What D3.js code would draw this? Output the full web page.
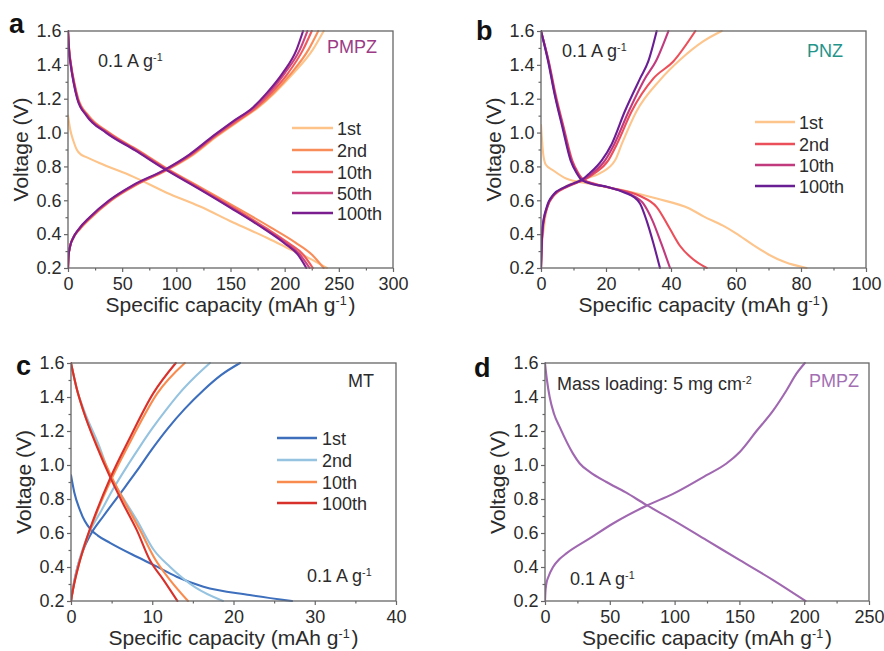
<!DOCTYPE html>
<html>
<head>
<meta charset="utf-8">
<script src="https://cdn.jsdelivr.net/npm/d3@7"></script>
<style>
  body { margin: 0; background: #fff; }
  svg { display: block; }
</style>
</head>
<body>
<svg id="fig" width="884" height="651"></svg>
<script>
// ---------- Galvanostatic charge/discharge profiles (capacity mAh/g, voltage V) ----------

// (a) PMPZ
const aCycles = ["1st", "2nd", "10th", "50th", "100th"];
const aColors = ["#fdc388", "#f98d59", "#ef5c5c", "#cc4580", "#7a1d8e"];
const aCharge1 = [[0,0.2],[0.5,0.27],[2,0.33],[5,0.38],[11,0.43],[22,0.5],[40,0.6],[63,0.69],[92,0.78],[116,0.87],[138,0.98],[157,1.065],[176,1.15],[190,1.23],[208,1.35],[226,1.49],[236,1.6]];
const aCharge2 = [[0,0.2],[0.5,0.27],[2,0.33],[5,0.38],[11,0.43],[21.5,0.5],[40,0.6],[62,0.69],[91,0.78],[115,0.87],[137,0.98],[156,1.065],[175,1.15],[189,1.23],[206,1.35],[222,1.49],[231,1.6]];
const aCharge10 = [[0,0.2],[0.5,0.27],[2,0.33],[5,0.38],[10.5,0.43],[21,0.5],[39,0.6],[62,0.69],[91,0.78],[114,0.87],[136,0.98],[155,1.065],[174,1.15],[187,1.23],[203,1.35],[217,1.49],[225,1.6]];
const aCharge50 = [[0,0.2],[0.5,0.27],[2,0.33],[5,0.38],[10,0.43],[20.5,0.5],[39,0.6],[61,0.69],[90,0.78],[113,0.87],[135,0.98],[153,1.065],[172,1.15],[185,1.23],[200,1.35],[214,1.49],[221,1.6]];
const aCharge100 = [[0,0.2],[0.5,0.27],[2,0.33],[5,0.38],[10,0.43],[20,0.5],[38,0.6],[60,0.69],[89,0.78],[112,0.87],[134,0.98],[152,1.065],[171,1.15],[183,1.23],[198,1.35],[211,1.49],[217,1.6]];
const aDischarge1 = [[0,1.1],[2,1.02],[5,0.95],[8,0.9],[12,0.87],[17,0.855],[29,0.82],[60,0.74],[91,0.645],[122,0.563],[152,0.47],[183,0.38],[202,0.32],[222,0.26],[239,0.2]];
const aDischarge2 = [[0,1.6],[1,1.5],[2.9,1.4],[5.7,1.3],[9.5,1.2],[19,1.1],[38,1.0],[65,0.895],[92,0.785],[124,0.67],[156,0.555],[187,0.44],[210,0.35],[225,0.28],[236,0.2]];
const aDischarge10 = [[0,1.6],[0.9,1.5],[2.7,1.4],[5.4,1.3],[9,1.2],[18,1.1],[37,1.0],[64,0.895],[91,0.785],[122,0.67],[153,0.555],[183,0.435],[204,0.345],[217,0.28],[226,0.2]];
const aDischarge50 = [[0,1.6],[0.8,1.5],[2.6,1.4],[5.2,1.3],[8.8,1.2],[17.5,1.1],[36,1.0],[63,0.895],[90,0.785],[121,0.67],[151,0.555],[181,0.435],[202,0.345],[214,0.28],[223,0.2]];
const aDischarge100 = [[0,1.6],[0.8,1.5],[2.5,1.4],[5,1.3],[8.5,1.2],[17,1.1],[35,1.0],[62,0.895],[89,0.785],[120,0.67],[150,0.555],[180,0.435],[200,0.345],[212,0.28],[220,0.2]];

// (b) PNZ
const bCycles = ["1st", "2nd", "10th", "100th"];
const bColors = ["#fdc48c", "#ea4f5a", "#c23a7e", "#6a1e94"];
const bCharge1 = [[0,0.2],[0.2,0.3],[0.9,0.44],[2.3,0.58],[5,0.65],[8.5,0.69],[12,0.72],[18.2,0.76],[22.8,0.836],[24.8,0.93],[29.4,1.126],[36.6,1.31],[42.8,1.43],[50,1.54],[55.6,1.6]];
const bCharge2 = [[0,0.2],[0.15,0.3],[0.6,0.44],[1.9,0.556],[4.2,0.634],[7.6,0.675],[10.6,0.7],[13.2,0.72],[16.5,0.76],[20.7,0.836],[23.3,0.93],[27.9,1.126],[34.6,1.32],[40.7,1.42],[47.5,1.6]];
const bCharge10 = [[0,0.2],[0.15,0.3],[0.5,0.44],[1.8,0.556],[4,0.634],[7.3,0.675],[10.3,0.7],[12.8,0.72],[15.8,0.76],[19.7,0.836],[22.5,0.93],[27,1.126],[32,1.32],[35.3,1.42],[39.2,1.6]];
const bCharge100 = [[0,0.2],[0.15,0.3],[0.5,0.44],[1.7,0.556],[3.8,0.634],[7,0.675],[10,0.7],[12.5,0.72],[15,0.76],[18.7,0.836],[21.7,0.93],[25.8,1.126],[30.5,1.32],[33,1.42],[35.6,1.6]];
const bDischarge1 = [[0,1.045],[0.7,0.87],[1.5,0.81],[3.8,0.776],[7.9,0.727],[15,0.698],[25.3,0.659],[35.6,0.61],[45.8,0.55],[50,0.505],[56,0.45],[60,0.405],[65,0.34],[70,0.28],[75,0.235],[81.7,0.2]];
const bDischarge2 = [[0,1.6],[2.4,1.42],[4.5,1.225],[7,1.03],[9.6,0.836],[11.5,0.76],[13.2,0.72],[17,0.695],[22,0.67],[30.5,0.625],[35.6,0.56],[39.7,0.43],[42.8,0.33],[46.9,0.25],[51,0.2]];
const bDischarge10 = [[0,1.6],[2.3,1.42],[4.3,1.225],[6.8,1.03],[9.3,0.836],[11.2,0.76],[12.8,0.72],[16.5,0.695],[21,0.675],[27.5,0.635],[31.5,0.58],[34.3,0.48],[37,0.345],[39.7,0.2]];
const bDischarge100 = [[0,1.6],[2.2,1.42],[4.2,1.225],[6.6,1.03],[9.1,0.836],[11,0.76],[12.5,0.72],[16,0.695],[20.2,0.68],[26.4,0.64],[28.5,0.62],[30.5,0.58],[32.5,0.48],[34.6,0.345],[36.6,0.2]];

// (c) MT
const cCycles = ["1st", "2nd", "10th", "100th"];
const cColors = ["#3d6fbd", "#95c3e0", "#f98b4e", "#d8312b"];
const cCharge1 = [[0,0.2],[0.3,0.29],[0.8,0.4],[1.5,0.5],[2.4,0.59],[4,0.7],[6.1,0.835],[8.1,0.965],[10,1.095],[12,1.22],[14,1.33],[16.3,1.44],[18.5,1.53],[20.8,1.6]];
const cCharge2 = [[0,0.2],[0.3,0.29],[0.8,0.4],[1.4,0.5],[2.2,0.6],[3.6,0.72],[5.2,0.86],[7,1.0],[8.5,1.11],[10,1.215],[11.8,1.33],[13.5,1.43],[15.3,1.52],[17.1,1.6]];
const cCharge10 = [[0,0.2],[0.3,0.28],[1,0.42],[2.05,0.578],[3.3,0.735],[5,0.92],[7.6,1.165],[10.6,1.42],[14,1.6]];
const cCharge100 = [[0,0.2],[0.3,0.28],[1,0.42],[2,0.578],[3.2,0.735],[4.8,0.92],[7.3,1.165],[10.1,1.42],[12.9,1.6]];
const cDischarge1 = [[0,0.94],[0.4,0.84],[1.1,0.735],[1.7,0.67],[2.4,0.622],[3.3,0.585],[4.8,0.542],[8.1,0.46],[10.2,0.411],[13,0.343],[16.3,0.284],[22,0.235],[27.2,0.2]];
const cDischarge2 = [[0,1.6],[0.7,1.45],[1.6,1.322],[3.4,1.12],[4.8,0.94],[6.5,0.8],[8.1,0.676],[10.2,0.5],[12.2,0.4],[15.3,0.28],[18.7,0.2]];
const cDischarge10 = [[0,1.6],[0.7,1.45],[1.5,1.322],[3.3,1.106],[5,0.93],[6.7,0.774],[8.5,0.617],[10.3,0.45],[12.2,0.323],[14.4,0.2]];
const cDischarge100 = [[0,1.6],[0.7,1.45],[1.5,1.322],[3.2,1.106],[4.8,0.93],[6.4,0.774],[8.1,0.617],[9.7,0.441],[11.4,0.323],[13.1,0.2]];

// (d) PMPZ, high mass loading
const dColor = "#a068b0";
const dCharge = [[0,0.2],[0.3,0.25],[1,0.3],[2.5,0.34],[6.2,0.4],[11,0.445],[16.5,0.48],[34.5,0.568],[52.5,0.656],[78.2,0.76],[98.8,0.83],[124.6,0.94],[140,1.009],[150.3,1.077],[163.2,1.2],[176,1.32],[186.4,1.44],[194,1.537],[200.5,1.6]];
const dDischarge = [[0,1.6],[1.5,1.5],[3.6,1.4],[7,1.3],[11.3,1.224],[21.6,1.067],[26.8,1.009],[34.5,0.96],[47.4,0.9],[62,0.84],[78.2,0.765],[98.8,0.676],[124.6,0.558],[150.3,0.44],[176,0.323],[201,0.2]];

// Axis ticks
const voltageMajor = [0.2, 0.4, 0.6, 0.8, 1.0, 1.2, 1.4, 1.6];
const voltageMinor = [0.3, 0.5, 0.7, 0.9, 1.1, 1.3, 1.5];
const aMajor = [0, 50, 100, 150, 200, 250, 300], aMinor = [25, 75, 125, 175, 225, 275];
const bMajor = [0, 20, 40, 60, 80, 100], bMinor = [10, 30, 50, 70, 90];
const cMajor = [0, 10, 20, 30, 40], cMinor = [5, 15, 25, 35];
const dMajor = [0, 50, 100, 150, 200, 250], dMinor = [25, 75, 125, 175, 225];

// ---------- Drawing ----------
const FONT = "Arial, 'Liberation Sans', Helvetica, sans-serif";
const AXIS_COLOR = "#666";
const TEXT_COLOR = "#2b2b2b";
const svg = d3.select("#fig");

const panels = [
  {
    letter: "a", letterPos: [9, 33], box: { l: 68, r: 393, t: 31, b: 268 },
    xDomain: [0, 300], xMajor: aMajor, xMinor: aMinor,
    series: [
      { name: aCycles[0], color: aColors[0], curves: [aCharge1, aDischarge1] },
      { name: aCycles[1], color: aColors[1], curves: [aCharge2, aDischarge2] },
      { name: aCycles[2], color: aColors[2], curves: [aCharge10, aDischarge10] },
      { name: aCycles[3], color: aColors[3], curves: [aCharge50, aDischarge50] },
      { name: aCycles[4], color: aColors[4], curves: [aCharge100, aDischarge100] }
    ],
    legend: { x1: 224, x2: 265, tx: 269, rows: [97, 119, 141, 162, 182] },
    notes: [
      { parts: [["0.1 A g"], ["-1", true]], x: 30, y: 36, color: TEXT_COLOR },
      { parts: [["PMPZ"]], x: 259, y: 22, color: "#9b3b85" }
    ]
  },
  {
    letter: "b", letterPos: [476, 40], box: { l: 541, r: 866, t: 31, b: 268 },
    xDomain: [0, 100], xMajor: bMajor, xMinor: bMinor,
    series: [
      { name: bCycles[0], color: bColors[0], curves: [bCharge1, bDischarge1] },
      { name: bCycles[1], color: bColors[1], curves: [bCharge2, bDischarge2] },
      { name: bCycles[2], color: bColors[2], curves: [bCharge10, bDischarge10] },
      { name: bCycles[3], color: bColors[3], curves: [bCharge100, bDischarge100] }
    ],
    legend: { x1: 214, x2: 254, tx: 258, rows: [91, 113, 134, 155] },
    notes: [
      { parts: [["0.1 A g"], ["-1", true]], x: 21, y: 26, color: TEXT_COLOR },
      { parts: [["PNZ"]], x: 266, y: 26, color: "#23948a" }
    ]
  },
  {
    letter: "c", letterPos: [16, 375], box: { l: 71, r: 396, t: 363, b: 601 },
    xDomain: [0, 40], xMajor: cMajor, xMinor: cMinor,
    series: [
      { name: cCycles[0], color: cColors[0], curves: [cCharge1, cDischarge1] },
      { name: cCycles[1], color: cColors[1], curves: [cCharge2, cDischarge2] },
      { name: cCycles[2], color: cColors[2], curves: [cCharge10, cDischarge10] },
      { name: cCycles[3], color: cColors[3], curves: [cCharge100, cDischarge100] }
    ],
    legend: { x1: 206, x2: 246, tx: 251, rows: [75, 97, 119, 140] },
    notes: [
      { parts: [["MT"]], x: 277, y: 24, color: TEXT_COLOR },
      { parts: [["0.1 A g"], ["-1", true]], x: 236, y: 219, color: TEXT_COLOR }
    ]
  },
  {
    letter: "d", letterPos: [474, 377], box: { l: 545, r: 869, t: 363, b: 601 },
    xDomain: [0, 250], xMajor: dMajor, xMinor: dMinor,
    series: [
      { name: "PMPZ", color: dColor, curves: [dCharge, dDischarge] }
    ],
    legend: null,
    notes: [
      { parts: [["Mass loading: 5 mg cm"], ["-2", true]], x: 12, y: 27, color: TEXT_COLOR },
      { parts: [["PMPZ"]], x: 264, y: 24, color: "#a36fb3" },
      { parts: [["0.1 A g"], ["-1", true]], x: 25, y: 222, color: TEXT_COLOR }
    ]
  }
];

// Writes text made of plain and superscript runs.
function richText(sel, parts, baseSize) {
  const lift = baseSize * 0.34;
  parts.forEach(([str, sup]) => {
    if (sup) {
      sel.append("tspan").attr("dy", -lift).attr("font-size", baseSize * 0.6).text(str);
      sel.append("tspan").attr("dy", lift).attr("font-size", baseSize).text("\u200A");
    } else {
      sel.append("tspan").attr("font-size", baseSize).text(str);
    }
  });
}

panels.forEach((p) => {
  const { l, r, t, b } = p.box;
  const x = d3.scaleLinear().domain(p.xDomain).range([l, r]);
  const y = d3.scaleLinear().domain([0.2, 1.6]).range([b, t]);
  const g = svg.append("g").attr("class", "panel-" + p.letter);

  const clipId = "clip-" + p.letter;
  svg.append("clipPath").attr("id", clipId)
    .append("rect").attr("x", l).attr("y", t - 1).attr("width", r - l).attr("height", b - t + 2);

  // minor ticks
  g.append("g").attr("transform", `translate(0,${b})`)
    .call(d3.axisBottom(x).tickValues(p.xMinor).tickSize(2.5).tickFormat(""))
    .call(s => { s.select(".domain").remove(); s.selectAll("line").attr("stroke", AXIS_COLOR).attr("stroke-width", 1.2); });
  g.append("g").attr("transform", `translate(${l},0)`)
    .call(d3.axisLeft(y).tickValues(voltageMinor).tickSize(2.5).tickFormat(""))
    .call(s => { s.select(".domain").remove(); s.selectAll("line").attr("stroke", AXIS_COLOR).attr("stroke-width", 1.2); });

  // major ticks + labels
  g.append("g").attr("transform", `translate(0,${b})`)
    .call(d3.axisBottom(x).tickValues(p.xMajor).tickSize(4).tickPadding(5).tickFormat(d3.format("d")))
    .call(s => {
      s.select(".domain").remove();
      s.selectAll("line").attr("stroke", AXIS_COLOR).attr("stroke-width", 1.2);
      s.selectAll("text").attr("font-family", FONT).attr("font-size", 18).attr("fill", TEXT_COLOR);
    });
  g.append("g").attr("transform", `translate(${l},0)`)
    .call(d3.axisLeft(y).tickValues(voltageMajor).tickSize(4).tickPadding(2.5).tickFormat(d3.format(".1f")))
    .call(s => {
      s.select(".domain").remove();
      s.selectAll("line").attr("stroke", AXIS_COLOR).attr("stroke-width", 1.2);
      s.selectAll("text").attr("font-family", FONT).attr("font-size", 18).attr("fill", TEXT_COLOR);
    });

  // curves (all branches are monotonic in capacity)
  const line = d3.line().x(d => x(d[0])).y(d => y(d[1])).curve(d3.curveMonotoneX);
  const plot = g.append("g").attr("clip-path", `url(#${clipId})`);
  p.series.forEach(s => {
    s.curves.forEach(c => {
      plot.append("path").attr("d", line(c)).attr("fill", "none")
        .attr("stroke", s.color).attr("stroke-width", 2.1)
        .attr("stroke-linejoin", "round").attr("stroke-linecap", "round");
    });
  });

  // frame
  g.append("rect").attr("x", l).attr("y", t).attr("width", r - l).attr("height", b - t)
    .attr("fill", "none").attr("stroke", AXIS_COLOR).attr("stroke-width", 1.3);

  // legend
  if (p.legend) {
    const lg = p.legend;
    p.series.forEach((s, k) => {
      const cy = t + lg.rows[k];
      g.append("line").attr("x1", l + lg.x1).attr("x2", l + lg.x2).attr("y1", cy).attr("y2", cy)
        .attr("stroke", s.color).attr("stroke-width", 2.4);
      g.append("text").attr("x", l + lg.tx).attr("y", cy + 6.5)
        .attr("font-family", FONT).attr("font-size", 18).attr("fill", TEXT_COLOR).text(s.name);
    });
  }

  // annotations
  p.notes.forEach(n => {
    const tx = g.append("text").attr("x", l + n.x).attr("y", t + n.y)
      .attr("font-family", FONT).attr("fill", n.color);
    richText(tx, n.parts, 18);
  });

  // axis titles
  const xt = g.append("text").attr("x", (l + r) / 2).attr("y", b + 44)
    .attr("text-anchor", "middle").attr("font-family", FONT).attr("fill", TEXT_COLOR);
  richText(xt, [["Specific capacity (mAh g"], ["-1", true], [")"]], 21);

  g.append("text")
    .attr("transform", `translate(${l - 40},${(t + b) / 2}) rotate(-90)`)
    .attr("text-anchor", "middle").attr("font-family", FONT).attr("font-size", 21)
    .attr("fill", TEXT_COLOR).text("Voltage (V)");

  // panel letter
  g.append("text").attr("x", p.letterPos[0]).attr("y", p.letterPos[1])
    .attr("font-family", FONT).attr("font-weight", "bold").attr("font-size", 27)
    .attr("fill", "#111").text(p.letter);
});
</script>
</body>
</html>
